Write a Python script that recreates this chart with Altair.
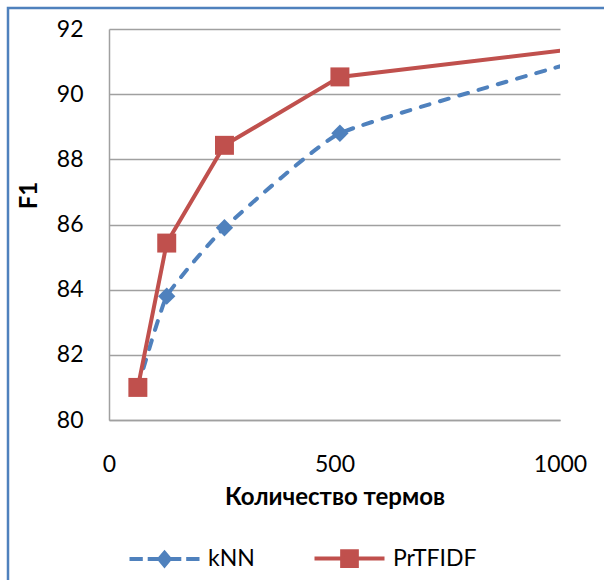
import altair as alt
import pandas as pd

# ---- data ----
terms = [64, 128, 256, 512, 1024]
knn = [81.0, 83.8, 85.9, 88.8, 90.95]
prtfidf = [81.0, 85.43, 88.43, 90.53, 91.37]
series_names = ["kNN", "PrTFIDF"]
series_colors = ["#4F81BD", "#C0504D"]
x_ticks = [0, 500, 1000]
y_ticks = [80, 82, 84, 86, 88, 90, 92]

rows = []
for t, a, b in zip(terms, knn, prtfidf):
    rows.append({"terms": t, "F1": a, "series": series_names[0]})
    rows.append({"terms": t, "F1": b, "series": series_names[1]})
df = pd.DataFrame(rows)

FONT = "Lato, 'Open Sans', sans-serif"
GRID = "#A0A0A0"

x_enc = alt.X(
    "terms:Q",
    scale=alt.Scale(domain=[0, 1000], nice=False, zero=False),
    axis=alt.Axis(
        values=x_ticks, format="d", title="Количество термов", grid=False,
        ticks=False, tickSize=0, labelPadding=33, labelFontSize=23,
        labelFont=FONT, labelColor="#000000", titleFontSize=24,
        titleFont=FONT, titleFontWeight="bold", titleColor="#000000",
        titleY=84, titleBaseline="alphabetic", domainColor=GRID,
        domainWidth=1.5, labelFlush=False,
    ),
)
y_enc = alt.Y(
    "F1:Q",
    scale=alt.Scale(domain=[80, 92], nice=False, zero=False),
    axis=alt.Axis(
        values=y_ticks, title="F1", grid=True, gridColor=GRID, gridWidth=1.3,
        ticks=False, tickSize=0, labelPadding=26, labelFontSize=23,
        labelFont=FONT, labelColor="#000000", titleFontSize=24,
        titleFont=FONT, titleFontWeight="bold", titleColor="#000000",
        titleX=-80, titleY=166, titleAngle=270, titleBaseline="middle",
        titleAlign="center", domainColor=GRID, domainWidth=1.5,
    ),
)

base = alt.Chart(df).encode(x=x_enc, y=y_enc)

knn_line = base.transform_filter(alt.datum.series == series_names[0]).mark_line(
    color=series_colors[0], strokeWidth=4, strokeDash=[9, 11],
    strokeCap="round", interpolate="cardinal", tension=0.6, clip=True,
)
knn_pts = base.transform_filter(alt.datum.series == series_names[0]).mark_point(
    shape="diamond", filled=True, color=series_colors[0], size=300,
    opacity=1, clip=True,
)
pr_line = base.transform_filter(alt.datum.series == series_names[1]).mark_line(
    color=series_colors[1], strokeWidth=4, clip=True,
)
pr_pts = base.transform_filter(alt.datum.series == series_names[1]).mark_point(
    shape="square", filled=True, color=series_colors[1], size=360,
    opacity=1, clip=True,
)

# legend glyphs: line / dashes with marker, as custom symbol paths
knn_glyph = ("M-5,0H-3.1M-2.4,0H-0.9M0.9,0H2.4M3.1,0H5"
             "M0,-0.9L0.75,0L0,0.9L-0.75,0Z")
pr_glyph = "M-5,0H-1.05M1.05,0H5M-1.05,-1.05H1.05V1.05H-1.05Z"

legend = alt.Legend(
    title=None, orient="none", legendX=44, legendY=518, direction="horizontal",
    columns=2, symbolSize=196, symbolStrokeWidth=4, labelOffset=32,
    columnPadding=51, labelFontSize=23, labelFont=FONT, labelColor="#000000",
    padding=0, symbolOpacity=1,
)
dom = alt.Scale(domain=series_names, range=series_colors)
legend_layer = base.transform_filter("false").mark_point(
    filled=True, opacity=1
).encode(
    shape=alt.Shape("series:N", scale=alt.Scale(domain=series_names,
                                                 range=[knn_glyph, pr_glyph]),
                    legend=legend),
    fill=alt.Fill("series:N", scale=dom, legend=legend),
    stroke=alt.Stroke("series:N", scale=dom, legend=legend),
)

border = alt.Chart(alt.Data(values=[{"k": 1}])).mark_rect(
    fillOpacity=0, stroke="#4F81BD", strokeWidth=2.5
).encode(
    x=alt.value(-101), x2=alt.value(520), y=alt.value(-21), y2=alt.value(580)
)

chart = alt.layer(border, knn_line, knn_pts, pr_line, pr_pts, legend_layer).properties(
    width=451, height=391,
    autosize=alt.AutoSizeParams(type="none"),
    padding={"left": 109, "top": 29, "right": 44, "bottom": 160},
    background="#FFFFFF",
).configure_view(strokeWidth=0)

chart.save("out.html", embed_options={"renderer": "svg", "actions": False})
